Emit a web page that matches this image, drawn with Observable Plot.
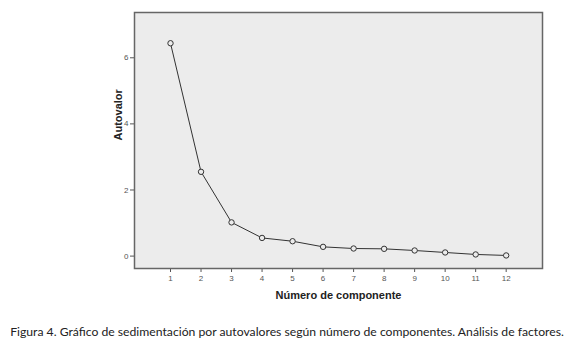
<!DOCTYPE html>
<html>
<head>
<meta charset="utf-8">
<script src="https://cdn.jsdelivr.net/npm/d3@7"></script>
<script src="https://cdn.jsdelivr.net/npm/@observablehq/plot@0.6"></script>
<style>
  html, body { margin: 0; padding: 0; background: #fff; }
  #chart { width: 574px; }
  #caption { font-family: Lato, "Open Sans", sans-serif; font-size: 12.2px; color: #222; text-align: center; width: 574px; height: 35px; line-height: 14px; padding-top: 15px; box-sizing: border-box; white-space: nowrap; }
</style>
</head>
<body>
<div id="chart"></div>
<div id="caption">Figura 4. Gráfico de sedimentación por autovalores según número de componentes. Análisis de factores.</div>
<script>
const componentes = [1, 2, 3, 4, 5, 6, 7, 8, 9, 10, 11, 12];
const autovalores = [6.44, 2.55, 1.02, 0.55, 0.45, 0.28, 0.23, 0.22, 0.17, 0.11, 0.05, 0.02];
const yTicks = [0, 2, 4, 6];
const xLabel = "Número de componente";
const yLabel = "Autovalor";

const data = componentes.map((c, i) => ({c, v: autovalores[i]}));

const chart = Plot.plot({
  width: 574,
  height: 310,
  marginLeft: 134,
  marginRight: 32,
  marginTop: 12,
  marginBottom: 42,
  style: {fontFamily: "'Liberation Sans', Arial, sans-serif", background: "#fff"},
  x: {domain: [-0.18, 13.19]},
  y: {domain: [-0.375, 7.37]},
  marks: [
    Plot.frame({fill: "#ececec", stroke: "none"}),
    Plot.axisX({ticks: componentes, tickSize: 4, tickPadding: 3, fontSize: 8, color: "#555", stroke: "#555", label: null}),
    Plot.axisY({ticks: yTicks, tickSize: 4, tickPadding: 2, fontSize: 8, color: "#555", stroke: "#555", label: null}),
    Plot.text([xLabel], {frameAnchor: "bottom", dy: 30, text: d => d, fontSize: 11, fontWeight: "bold", fill: "#222"}),
    Plot.text([yLabel], {frameAnchor: "left", dx: -16, rotate: -90, text: d => d, fontSize: 11, fontWeight: "bold", fill: "#222"}),
    Plot.line(data, {x: "c", y: "v", stroke: "#333", strokeWidth: 1}),
    Plot.dot(data, {x: "c", y: "v", r: 2.7, stroke: "#333", fill: "#ececec", strokeWidth: 1}),
    Plot.frame({stroke: "#666", strokeWidth: 1.5})
  ]
});
document.getElementById("chart").appendChild(chart);
</script>
</body>
</html>
